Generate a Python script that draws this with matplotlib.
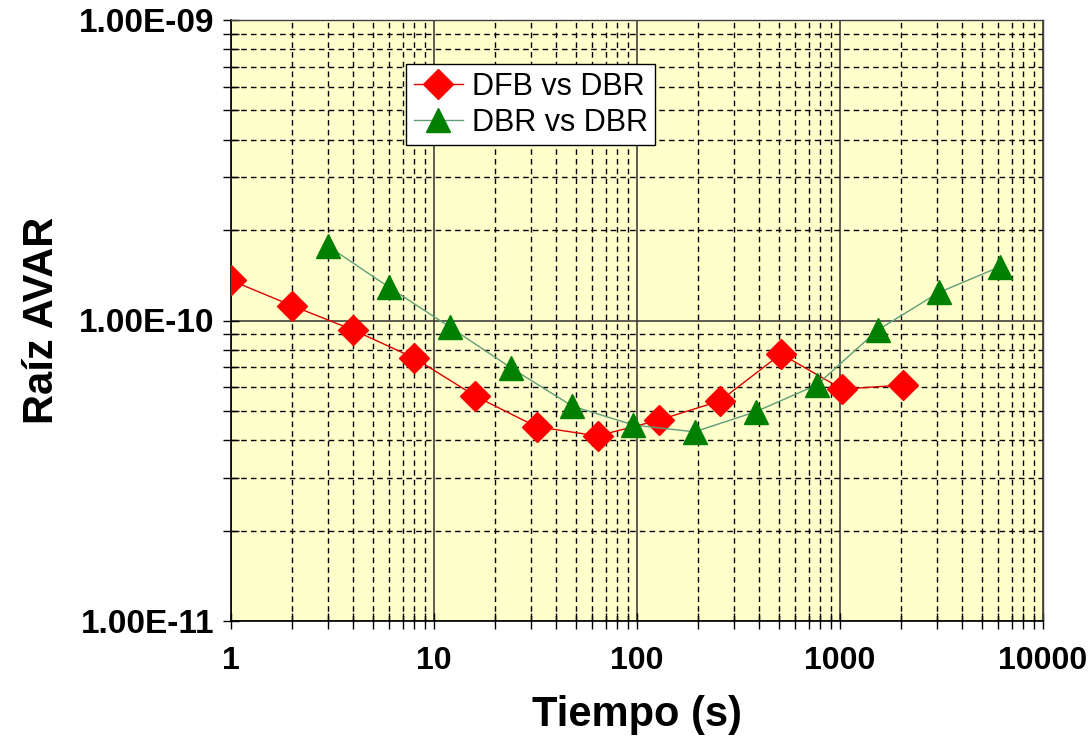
import matplotlib
matplotlib.use("Agg")
import matplotlib.pyplot as plt
from matplotlib.ticker import LogLocator, FuncFormatter, NullFormatter

# Allan deviation (square root of AVAR) versus averaging time
tau_dfb = [1, 2, 4, 8, 16, 32, 64, 128, 256, 512, 1024, 2048]
adev_dfb = [1.36e-10, 1.12e-10, 9.3e-11, 7.5e-11, 5.6e-11, 4.43e-11,
            4.13e-11, 4.66e-11, 5.4e-11, 7.74e-11, 5.91e-11, 6.1e-11]

tau_dbr = [3, 6, 12, 24, 48, 96, 192, 384, 768, 1536, 3072, 6144]
adev_dbr = [1.77e-10, 1.29e-10, 9.5e-11, 6.95e-11, 5.19e-11, 4.49e-11,
            4.26e-11, 4.97e-11, 6.1e-11, 9.3e-11, 1.24e-10, 1.51e-10]

label_dfb = "DFB vs DBR"
label_dbr = "DBR vs DBR"
x_label = "Tiempo (s)"
y_label = "Raíz AVAR"

plt.rcParams['font.family'] = ['Liberation Sans', 'DejaVu Sans']

fig = plt.figure(figsize=(10.92, 7.46), dpi=100)
ax = fig.add_axes([231 / 1092, 1 - 621 / 746, (1043 - 231) / 1092, (621 - 20) / 746])
ax.set_facecolor('#FFFFCC')

ax.plot(tau_dfb, adev_dfb, color='#E00000', lw=1.0, marker='D', ms=15,
        mfc='#FF0000', mec='#FF0000', label=label_dfb, zorder=4)
ax.plot(tau_dbr, adev_dbr, color='#5E9E78', lw=1.0, marker='^', ms=17,
        mfc='#008000', mec='#008000', label=label_dbr, zorder=4)

ax.set_xscale('log')
ax.set_yscale('log')
ax.set_xlim(1, 10000)
ax.set_ylim(1e-11, 1e-9)

ax.xaxis.set_major_locator(LogLocator(base=10, numticks=10))
ax.xaxis.set_minor_locator(LogLocator(base=10, subs=range(2, 10), numticks=10))
ax.yaxis.set_major_locator(LogLocator(base=10, numticks=10))
ax.yaxis.set_minor_locator(LogLocator(base=10, subs=range(2, 10), numticks=10))
ax.xaxis.set_major_formatter(FuncFormatter(lambda v, p: f"{v:.0f}"))
ax.yaxis.set_major_formatter(FuncFormatter(lambda v, p: f"{v:.2E}"))
ax.xaxis.set_minor_formatter(NullFormatter())
ax.yaxis.set_minor_formatter(NullFormatter())

ax.grid(which='major', color='#303030', lw=1.1, ls='-', zorder=1)
ax.grid(which='minor', color='#000000', lw=1.0, ls=(0, (4, 3)), zorder=1)
ax.set_axisbelow(True)

ax.tick_params(which='both', direction='inout', length=12, width=1, color='#000000')
ax.tick_params(axis='x', which='major', labelsize=23, pad=12)
ax.tick_params(axis='y', which='major', labelsize=24, pad=6)
for lab in ax.get_xticklabels() + ax.get_yticklabels():
    lab.set_fontweight('bold')

for side in ['left', 'bottom']:
    ax.spines[side].set_color('#000000')
    ax.spines[side].set_linewidth(1.2)
for side in ['top', 'right']:
    ax.spines[side].set_color('#404040')
    ax.spines[side].set_linewidth(1.0)

ax.set_xlabel(x_label, fontsize=30, fontweight='bold', labelpad=14)
ax.set_ylabel(y_label, fontsize=30, fontweight='bold', labelpad=12)

leg = ax.legend(loc='upper left', bbox_to_anchor=((406 - 231) / 812, 1 - (64 - 20) / 601),
                fontsize=22, frameon=True, fancybox=False, borderpad=0.25,
                labelspacing=0.2, handlelength=1.6, handletextpad=0.3,
                borderaxespad=0)
leg.get_frame().set_edgecolor('#000000')
leg.get_frame().set_facecolor('#FFFFFF')
leg.get_frame().set_alpha(1)
leg.get_frame().set_linewidth(1.0)

fig.savefig('out.png', dpi=100, facecolor='white')
